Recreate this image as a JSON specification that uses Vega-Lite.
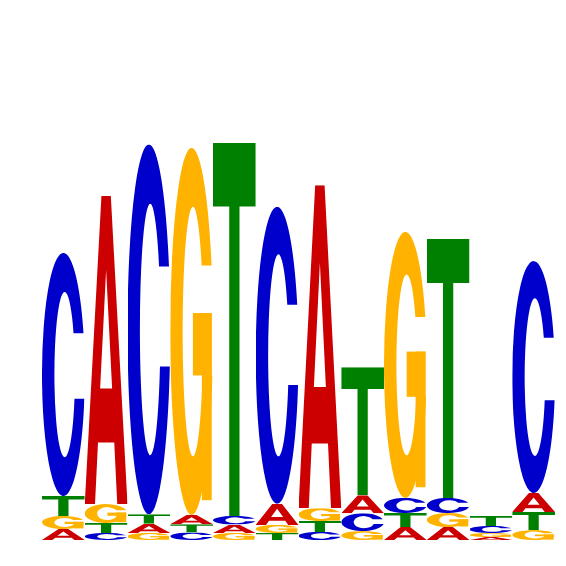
{
  "$schema": "https://vega.github.io/schema/vega-lite/v6.json",
  "width": 513,
  "height": 540,
  "padding": {"left": 42, "top": 0, "right": 11, "bottom": 26},
  "background": "white",
  "config": {"view": {"stroke": null}},
  "data": {
    "values": [
      {"pos": 1, "base": "A", "bits": 0.041}, {"pos": 1, "base": "G", "bits": 0.048}, {"pos": 1, "base": "T", "bits": 0.074}, {"pos": 1, "base": "C", "bits": 0.900},
      {"pos": 2, "base": "C", "bits": 0.026}, {"pos": 2, "base": "T", "bits": 0.037}, {"pos": 2, "base": "G", "bits": 0.070}, {"pos": 2, "base": "A", "bits": 1.141},
      {"pos": 3, "base": "G", "bits": 0.026}, {"pos": 3, "base": "A", "bits": 0.034}, {"pos": 3, "base": "T", "bits": 0.035}, {"pos": 3, "base": "C", "bits": 1.370},
      {"pos": 4, "base": "C", "bits": 0.028}, {"pos": 4, "base": "T", "bits": 0.030}, {"pos": 4, "base": "A", "bits": 0.035}, {"pos": 4, "base": "G", "bits": 1.359},
      {"pos": 5, "base": "G", "bits": 0.026}, {"pos": 5, "base": "A", "bits": 0.031}, {"pos": 5, "base": "C", "bits": 0.032}, {"pos": 5, "base": "T", "bits": 1.381},
      {"pos": 6, "base": "T", "bits": 0.026}, {"pos": 6, "base": "G", "bits": 0.030}, {"pos": 6, "base": "A", "bits": 0.078}, {"pos": 6, "base": "C", "bits": 1.100},
      {"pos": 7, "base": "C", "bits": 0.030}, {"pos": 7, "base": "T", "bits": 0.040}, {"pos": 7, "base": "G", "bits": 0.048}, {"pos": 7, "base": "A", "bits": 1.196},
      {"pos": 8, "base": "G", "bits": 0.033}, {"pos": 8, "base": "C", "bits": 0.066}, {"pos": 8, "base": "A", "bits": 0.067}, {"pos": 8, "base": "T", "bits": 0.474},
      {"pos": 9, "base": "A", "bits": 0.048}, {"pos": 9, "base": "T", "bits": 0.052}, {"pos": 9, "base": "C", "bits": 0.056}, {"pos": 9, "base": "G", "bits": 0.985},
      {"pos": 10, "base": "A", "bits": 0.048}, {"pos": 10, "base": "G", "bits": 0.052}, {"pos": 10, "base": "C", "bits": 0.056}, {"pos": 10, "base": "T", "bits": 0.959},
      {"pos": 11, "base": "A", "bits": 0.011}, {"pos": 11, "base": "G", "bits": 0.015}, {"pos": 11, "base": "C", "bits": 0.026}, {"pos": 11, "base": "T", "bits": 0.037},
      {"pos": 12, "base": "G", "bits": 0.037}, {"pos": 12, "base": "T", "bits": 0.067}, {"pos": 12, "base": "A", "bits": 0.070}, {"pos": 12, "base": "C", "bits": 0.859}
    ]
  },
  "transform": [
    {"stack": "bits", "groupby": ["pos"], "sort": [{"field": "bits", "order": "ascending"}], "as": ["y0", "y1"]}
  ],
  "mark": {"type": "image", "aspect": false},
  "encoding": {
    "x": {"field": "pos", "type": "ordinal", "axis": null, "scale": {"paddingInner": 0, "paddingOuter": 0}},
    "y": {"field": "y0", "type": "quantitative", "axis": null, "scale": {"domain": [0, 2], "nice": false}},
    "y2": {"field": "y1"},
    "url": {
      "condition": [
        {"test": "datum.base === 'A'", "value": "data:image/svg+xml,%3Csvg%20xmlns='http://www.w3.org/2000/svg'%20viewBox='0%200%20100%20100'%20preserveAspectRatio='none'%20width='100'%20height='100'%3E%3Cpath%20fill='%23CC0000'%20fill-rule='evenodd'%20d='M0,100%20L39,0%20L61,0%20L100,100%20L76,100%20L69,80%20L31,80%20L24,100%20Z%20M50,24%20L36,62.5%20L64,62.5%20Z'/%3E%3C/svg%3E"},
        {"test": "datum.base === 'C'", "value": "data:image/svg+xml,%3Csvg%20xmlns='http://www.w3.org/2000/svg'%20viewBox='0%200%20100%20100'%20preserveAspectRatio='none'%20width='100'%20height='100'%3E%3Cpath%20fill='%230000CC'%20d='M97.02,33%20A50,50%200%201%200%2098.99,60%20L75.94,60%20A24,34%200%201%201%2073.78,33%20Z'/%3E%3C/svg%3E"},
        {"test": "datum.base === 'G'", "value": "data:image/svg+xml,%3Csvg%20xmlns='http://www.w3.org/2000/svg'%20viewBox='0%200%20100%20100'%20preserveAspectRatio='none'%20width='100'%20height='100'%3E%3Cpath%20fill='%23FFB300'%20d='M96.65,32%20A50,50%200%201%200%2098.54,62%20L75.46,62%20A24,34%200%201%201%2073.36,32%20Z'/%3E%3Crect%20fill='%23FFB300'%20x='53'%20y='45'%20width='44'%20height='17'/%3E%3Crect%20fill='%23FFB300'%20x='74'%20y='45'%20width='23'%20height='51'/%3E%3C/svg%3E"}
      ],
      "value": "data:image/svg+xml,%3Csvg%20xmlns='http://www.w3.org/2000/svg'%20viewBox='0%200%20100%20100'%20preserveAspectRatio='none'%20width='100'%20height='100'%3E%3Cpath%20fill='%23008000'%20d='M0,0%20H100%20V17%20H62%20V100%20H38%20V17%20H0%20Z'/%3E%3C/svg%3E"
    }
  }
}
